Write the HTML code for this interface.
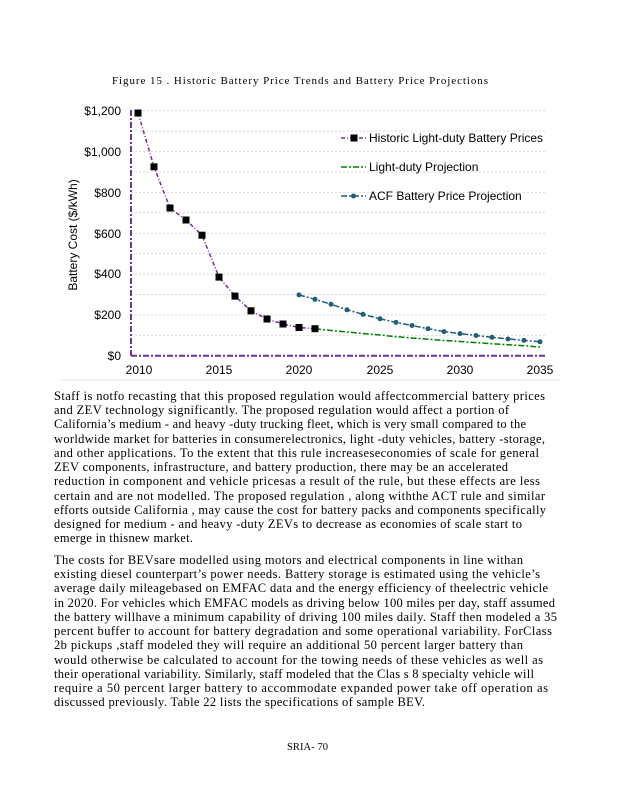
<!DOCTYPE html>
<html><head><meta charset="utf-8"><style>
html,body{margin:0;padding:0;background:#fff;}
svg{display:block;}
</style></head><body>
<svg width="618" height="800" viewBox="0 0 618 800" xmlns="http://www.w3.org/2000/svg">
<rect width="618" height="800" fill="#fff"/>
<text x="112" y="84" font-family="Liberation Serif, serif" font-size="11" textLength="376" lengthAdjust="spacing">Figure  15  . Historic  Battery  Price  Trends  and  Battery  Price  Projections</text>
<!-- gridlines -->
<g stroke="#d8d8d8" stroke-width="1" stroke-dasharray="2,2">
<line x1="131" x2="547" y1="335.3" y2="335.3"/><line x1="131" x2="547" y1="314.9" y2="314.9"/>
<line x1="131" x2="547" y1="294.5" y2="294.5"/><line x1="131" x2="547" y1="274.1" y2="274.1"/>
<line x1="131" x2="547" y1="253.6" y2="253.6"/><line x1="131" x2="547" y1="233.2" y2="233.2"/>
<line x1="131" x2="547" y1="212.8" y2="212.8"/><line x1="131" x2="547" y1="192.4" y2="192.4"/>
<line x1="131" x2="547" y1="172.0" y2="172.0"/><line x1="131" x2="547" y1="151.6" y2="151.6"/>
<line x1="131" x2="547" y1="131.1" y2="131.1"/><line x1="131" x2="547" y1="110.7" y2="110.7"/>
</g>
<line x1="60" x2="560" y1="380" y2="380" stroke="#e6e6e6" stroke-width="1"/>
<g stroke="#7030a0" stroke-width="2" stroke-dasharray="6,2,2,2" fill="none">
<line x1="131" y1="110" x2="131" y2="355.7"/>
<line x1="131" y1="355.7" x2="547" y2="355.7"/>
</g>
<g font-family="Liberation Sans, sans-serif" font-size="12" fill="#000">
<text x="121" y="115" text-anchor="end">$1,200</text>
<text x="121" y="156" text-anchor="end">$1,000</text>
<text x="121" y="197" text-anchor="end">$800</text>
<text x="121" y="238" text-anchor="end">$600</text>
<text x="121" y="278" text-anchor="end">$400</text>
<text x="121" y="319" text-anchor="end">$200</text>
<text x="121" y="360" text-anchor="end">$0</text>
<text x="139" y="374" text-anchor="middle">2010</text>
<text x="219" y="374" text-anchor="middle">2015</text>
<text x="299" y="374" text-anchor="middle">2020</text>
<text x="380" y="374" text-anchor="middle">2025</text>
<text x="460" y="374" text-anchor="middle">2030</text>
<text x="540" y="374" text-anchor="middle">2035</text>
<text transform="translate(77,235) rotate(-90)" text-anchor="middle">Battery Cost ($/kWh)</text>
<text x="369" y="142">Historic Light-duty Battery Prices</text>
<text x="369" y="171">Light-duty Projection</text>
<text x="369" y="200">ACF Battery Price Projection</text>
</g>
<!-- series -->
<polyline fill="none" stroke="#008000" stroke-width="1.5" stroke-dasharray="6,2,2,2" points="315,328.7 331,330.5 347,332 363,333.5 380,335 396,336.7 412,338 428,339.2 444,340.5 460,341.5 476,342.6 492,343.7 508,344.8 524,345.7 540,347"/>
<polyline fill="none" stroke="#1f5f7a" stroke-width="1.5" stroke-dasharray="6,2,2,2" points="299,294.9 315,299.3 331,304.2 347,309.8 363,314.3 380,318.8 396,322.4 412,325.5 428,328.7 444,331.6 460,333.6 476,335.5 492,337.3 508,339 524,340.4 540,341.8"/>
<g fill="#1f5f7a">
<circle cx="299" cy="294.9" r="2.5"/><circle cx="315" cy="299.3" r="2.5"/><circle cx="331" cy="304.2" r="2.5"/><circle cx="347" cy="309.8" r="2.5"/><circle cx="363" cy="314.3" r="2.5"/><circle cx="380" cy="318.8" r="2.5"/><circle cx="396" cy="322.4" r="2.5"/><circle cx="412" cy="325.5" r="2.5"/><circle cx="428" cy="328.7" r="2.5"/><circle cx="444" cy="331.6" r="2.5"/><circle cx="460" cy="333.6" r="2.5"/><circle cx="476" cy="335.5" r="2.5"/><circle cx="492" cy="337.3" r="2.5"/><circle cx="508" cy="339" r="2.5"/><circle cx="524" cy="340.4" r="2.5"/><circle cx="540" cy="341.8" r="2.5"/>
</g>
<polyline fill="none" stroke="#7030a0" stroke-width="1.5" stroke-dasharray="4,2,1,2" points="138,113 154,166.8 170,208 186,220 202,235.2 219,277.1 235,296.1 251,310.8 267,319 283,324 299,327.5 315,328.7"/>
<g fill="#000">
<rect x="134.5" y="109.5" width="7" height="7"/><rect x="150.5" y="163.3" width="7" height="7"/><rect x="166.5" y="204.5" width="7" height="7"/><rect x="182.5" y="216.5" width="7" height="7"/><rect x="198.5" y="231.7" width="7" height="7"/><rect x="215.5" y="273.6" width="7" height="7"/><rect x="231.5" y="292.6" width="7" height="7"/><rect x="247.5" y="307.3" width="7" height="7"/><rect x="263.5" y="315.5" width="7" height="7"/><rect x="279.5" y="320.5" width="7" height="7"/><rect x="295.5" y="324" width="7" height="7"/><rect x="311.5" y="325.2" width="7" height="7"/>
</g>
<!-- legend symbols -->
<line x1="341" x2="367" y1="138" y2="138" stroke="#7030a0" stroke-width="1.5" stroke-dasharray="4,2,1,2"/>
<rect x="350.5" y="134.5" width="7" height="7" fill="#000"/>
<line x1="341" x2="366" y1="167" y2="167" stroke="#008000" stroke-width="1.5" stroke-dasharray="6,2,2,2"/>
<line x1="341" x2="366" y1="196" y2="196" stroke="#1f5f7a" stroke-width="1.5" stroke-dasharray="6,2,2,2"/>
<circle cx="353.5" cy="196" r="2.5" fill="#1f5f7a"/>
<!-- body text -->
<g font-family="Liberation Serif, serif" font-size="12.5" fill="#000">
<text x="54" y="400" textLength="491" lengthAdjust="spacing">Staff is notfo  recasting  that  this proposed  regulation  would affectcommercial  battery  prices</text>
<text x="54" y="414" textLength="455" lengthAdjust="spacing">and  ZEV technology  significantly.  The proposed  regulation  would  affect  a portion  of</text>
<text x="54" y="428" textLength="472" lengthAdjust="spacing">California’s  medium  - and  heavy -duty trucking  fleet,  which is very small  compared  to the</text>
<text x="54" y="443" textLength="491" lengthAdjust="spacing">worldwide  market  for batteries  in consumerelectronics,  light -duty  vehicles,  battery -storage,</text>
<text x="54" y="457" textLength="485" lengthAdjust="spacing">and  other  applications.  To the  extent  that  this rule  increaseseconomies  of scale  for general</text>
<text x="54" y="471" textLength="454" lengthAdjust="spacing">ZEV components,  infrastructure,  and  battery  production,  there  may be  an accelerated</text>
<text x="54" y="485" textLength="486" lengthAdjust="spacing">reduction  in component  and  vehicle  pricesas  a result  of the  rule,  but  these  effects  are  less</text>
<text x="54" y="500" textLength="491" lengthAdjust="spacing">certain  and  are  not  modelled.  The proposed  regulation  , along  withthe  ACT rule  and similar</text>
<text x="54" y="514" textLength="492" lengthAdjust="spacing">efforts  outside  California , may cause  the  cost  for battery  packs and  components  specifically</text>
<text x="54" y="528" textLength="468" lengthAdjust="spacing">designed  for medium  - and  heavy -duty  ZEVs to  decrease  as economies  of scale  start  to</text>
<text x="54" y="542" textLength="139" lengthAdjust="spacing">emerge  in thisnew  market.</text>
<text x="54" y="564" textLength="469" lengthAdjust="spacing">The  costs  for BEVsare  modelled  using  motors and  electrical  components  in line  withan</text>
<text x="54" y="578" textLength="486" lengthAdjust="spacing">existing  diesel  counterpart’s  power  needs.  Battery  storage  is estimated  using  the  vehicle’s</text>
<text x="54" y="592" textLength="494" lengthAdjust="spacing">average  daily mileagebased  on EMFAC data  and  the  energy  efficiency  of theelectric  vehicle</text>
<text x="54" y="607" textLength="501" lengthAdjust="spacing">in 2020.  For vehicles  which EMFAC models  as driving  below  100 miles  per  day, staff assumed</text>
<text x="54" y="621" textLength="503" lengthAdjust="spacing">the  battery  willhave  a minimum  capability  of driving  100  miles  daily.  Staff  then  modeled  a 35</text>
<text x="54" y="635" textLength="498" lengthAdjust="spacing">percent  buffer  to account  for battery  degradation  and  some  operational  variability.  ForClass</text>
<text x="54" y="649" textLength="469" lengthAdjust="spacing">2b  pickups ,staff  modeled  they  will require  an additional  50 percent  larger  battery  than</text>
<text x="54" y="664" textLength="489" lengthAdjust="spacing">would  otherwise  be  calculated  to account  for the  towing  needs  of these  vehicles  as well as</text>
<text x="54" y="678" textLength="480" lengthAdjust="spacing">their  operational  variability.  Similarly,  staff modeled  that  the  Clas s 8 specialty  vehicle  will</text>
<text x="54" y="692" textLength="494" lengthAdjust="spacing">require  a 50 percent  larger  battery  to accommodate  expanded  power  take  off operation  as</text>
<text x="54" y="706" textLength="371" lengthAdjust="spacing">discussed  previously. Table  22 lists the  specifications  of sample  BEV.</text>
</g>
<text x="287" y="750" font-family="Liberation Serif, serif" font-size="10.5" textLength="41" lengthAdjust="spacing">SRIA- 70</text>
</svg>
</body></html>
